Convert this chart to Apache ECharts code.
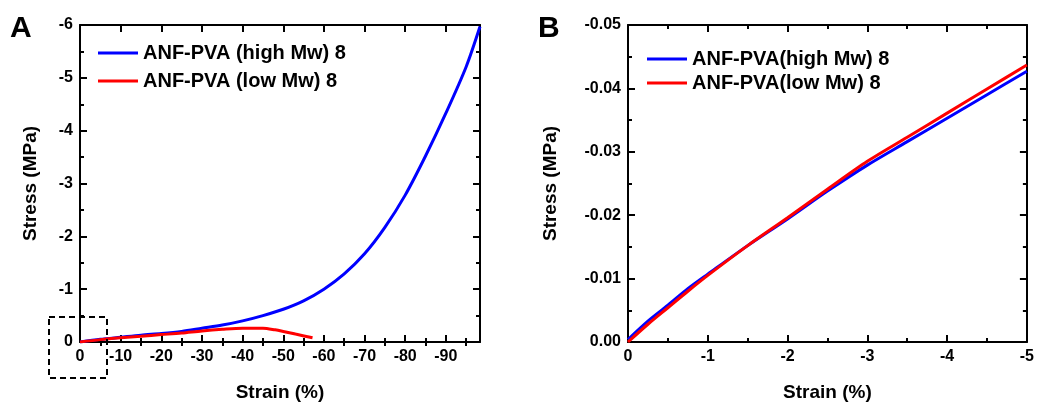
<!DOCTYPE html>
<html>
<head>
<meta charset="utf-8">
<script src="https://cdn.jsdelivr.net/npm/echarts@6/dist/echarts.min.js"></script>
<style>
html,body{margin:0;padding:0;background:#fff;}
#chart{width:1037px;height:407px;}
</style>
</head>
<body>
<div id="chart"></div>
<script>
// ---------- Panel A data ----------
const strainA_high = [0, -5, -10, -15, -20, -25, -30, -35, -40, -45, -50, -55, -60, -65, -70, -75, -80, -85, -90, -95, -98.4];
const stressA_high = [0, -0.05, -0.09, -0.13, -0.16, -0.20, -0.26, -0.32, -0.40, -0.50, -0.62, -0.78, -1.00, -1.29, -1.67, -2.17, -2.78, -3.52, -4.33, -5.21, -5.97];
const strainA_low = [0, -5, -10, -15, -20, -25, -30, -35, -40, -45, -48, -50, -53, -57.2];
const stressA_low = [0, -0.045, -0.08, -0.11, -0.14, -0.17, -0.21, -0.24, -0.26, -0.26, -0.23, -0.20, -0.15, -0.08];
// ---------- Panel B data ----------
const strainB = [0, -0.25, -0.5, -0.75, -1.0, -1.5, -2.0, -2.5, -3.0, -3.5, -4.0, -4.5, -5.0];
const stressB_high = [-0.0004, -0.0033, -0.0058, -0.0084, -0.0107, -0.0152, -0.0194, -0.0238, -0.0279, -0.0316, -0.0353, -0.0390, -0.0427];
const stressB_low = [0, -0.0028, -0.0054, -0.0080, -0.0105, -0.0152, -0.0196, -0.0241, -0.0285, -0.0323, -0.0361, -0.0399, -0.0437];
// ---------- ticks / labels ----------
const xTicksA_major = [0, -10, -20, -30, -40, -50, -60, -70, -80, -90];
const xTicksA_minor = [-5, -15, -25, -35, -45, -55, -65, -75, -85, -95];
const namesA = ['ANF-PVA (high Mw) 8', 'ANF-PVA (low Mw) 8'];
const namesB = ['ANF-PVA(high Mw) 8', 'ANF-PVA(low Mw) 8'];
const xTitle = 'Strain (%)';
const yTitle = 'Stress (MPa)';
const panelLetters = ['A', 'B'];

const zip = (xs, ys) => xs.map((x, i) => [x, ys[i]]);
const FONT = '"Liberation Sans", Arial, sans-serif';
const BLUE = '#0000ff', RED = '#ff0000';
const labelStyle = { color: '#000', fontFamily: FONT, fontWeight: 'bold', fontSize: 16, margin: 7 };
const nameStyle = { color: '#000', fontFamily: FONT, fontWeight: 'bold', fontSize: 19 };

function axisCommon(extra) {
  return Object.assign({
    type: 'value',
    inverse: true,
    axisLine: { show: true, onZero: false, lineStyle: { color: '#000', width: 2 } },
    axisTick: { show: true, inside: true, length: 7, lineStyle: { color: '#000', width: 2 } },
    minorTick: { show: true, splitNumber: 2, length: 4, lineStyle: { color: '#000', width: 2 } },
    splitLine: { show: false },
    axisLabel: labelStyle,
    nameTextStyle: nameStyle
  }, extra);
}
function mirror(extra) {
  return axisCommon(Object.assign({ axisLabel: { show: false } }, extra));
}
// Panel A x axes (ticks placed on the multiples of 10 / 5)
function xA(position, withLabels) {
  return [
    axisCommon({ gridIndex: 0, position, min: -98.4, max: 0,
      axisTick: { show: true, inside: true, length: 7, customValues: xTicksA_major, lineStyle: { color: '#000', width: 2 } },
      minorTick: { show: false },
      axisLabel: withLabels ? Object.assign({ customValues: xTicksA_major }, labelStyle) : { show: false },
      name: withLabels ? xTitle : '', nameLocation: 'middle', nameGap: 41 }),
    axisCommon({ gridIndex: 0, position, min: -98.4, max: 0,
      axisLine: { show: false },
      axisTick: { show: true, inside: true, length: 4, customValues: xTicksA_minor, lineStyle: { color: '#000', width: 2 } },
      minorTick: { show: false },
      axisLabel: { show: false } })
  ];
}
const legendText = { color: '#000', fontFamily: FONT, fontWeight: 'bold', fontSize: 20, lineHeight: 20 };

const option = {
  backgroundColor: '#fff',
  animation: false,
  grid: [
    { left: 80, top: 25, width: 400, height: 321 },
    { left: 628, top: 25, width: 401, height: 321 }
  ],
  xAxis: [
    ...xA('bottom', true),   // 0,1
    ...xA('top', false),     // 2,3
    axisCommon({ gridIndex: 1, position: 'bottom', min: -5, max: 0, interval: 1,
      name: xTitle, nameLocation: 'middle', nameGap: 41 }),   // 4
    mirror({ gridIndex: 1, position: 'top', min: -5, max: 0, interval: 1 })  // 5
  ],
  yAxis: [
    axisCommon({ gridIndex: 0, position: 'left', min: -6, max: 0, interval: 1,
      name: yTitle, nameLocation: 'middle', nameGap: 40 }),
    mirror({ gridIndex: 0, position: 'right', min: -6, max: 0, interval: 1 }),
    axisCommon({ gridIndex: 1, position: 'left', min: -0.05, max: 0, interval: 0.01,
      axisLabel: Object.assign({ formatter: v => (Math.abs(v) < 1e-9 ? '0.00' : v.toFixed(2)) }, labelStyle),
      name: yTitle, nameLocation: 'middle', nameGap: 68 }),
    mirror({ gridIndex: 1, position: 'right', min: -0.05, max: 0, interval: 0.01 })
  ],
  legend: [
    { data: namesA, orient: 'vertical', left: 93, top: 38, icon: 'rect', itemWidth: 40, itemHeight: 3, itemGap: 8,
      textStyle: legendText },
    { data: namesB, orient: 'vertical', left: 642, top: 44, icon: 'rect', itemWidth: 40, itemHeight: 3, itemGap: 4,
      textStyle: legendText }
  ],
  series: [
    { name: namesA[0], type: 'line', xAxisIndex: 0, yAxisIndex: 0, symbol: 'none', smooth: 0.3,
      data: zip(strainA_high, stressA_high), lineStyle: { color: BLUE, width: 3 }, itemStyle: { color: BLUE } },
    { name: namesA[1], type: 'line', xAxisIndex: 0, yAxisIndex: 0, symbol: 'none', smooth: 0.3,
      data: zip(strainA_low, stressA_low), lineStyle: { color: RED, width: 3 }, itemStyle: { color: RED } },
    { name: namesB[0], type: 'line', xAxisIndex: 4, yAxisIndex: 2, symbol: 'none', smooth: 0.3,
      data: zip(strainB, stressB_high), lineStyle: { color: BLUE, width: 3 }, itemStyle: { color: BLUE } },
    { name: namesB[1], type: 'line', xAxisIndex: 4, yAxisIndex: 2, symbol: 'none', smooth: 0.3,
      data: zip(strainB, stressB_low), lineStyle: { color: RED, width: 3 }, itemStyle: { color: RED } }
  ],
  graphic: [
    { type: 'text', left: 10, top: 14, style: { text: panelLetters[0], fill: '#000', font: 'bold 30px ' + FONT } },
    { type: 'text', left: 538, top: 14, style: { text: panelLetters[1], fill: '#000', font: 'bold 30px ' + FONT } },
    { type: 'rect', shape: { x: 49, y: 317, width: 58, height: 61 }, z: 100,
      style: { fill: 'none', stroke: '#000', lineWidth: 2, lineDash: [6, 4] } }
  ]
};

const chart = echarts.init(document.getElementById('chart'), null, { renderer: 'canvas' });
chart.setOption(option);
</script>
</body>
</html>
